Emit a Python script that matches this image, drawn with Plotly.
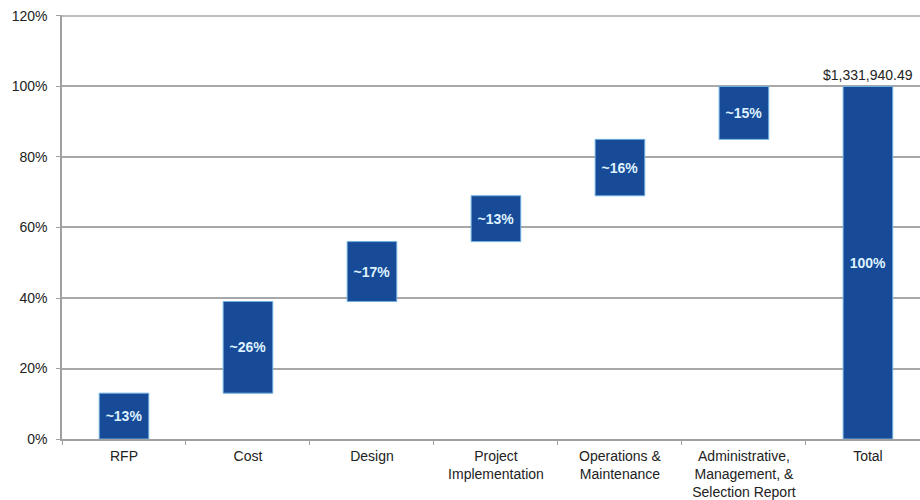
import plotly.graph_objects as go

categories = ["RFP", "Cost", "Design", "Project<br>Implementation", "Operations &<br>Maintenance",
              "Administrative,<br>Management, &<br>Selection Report", "Total"]
increments = [13, 26, 17, 13, 16, 15]
bar_labels = ["~13%", "~26%", "~17%", "~13%", "~16%", "~15%", "100%"]
total_value_label = "$1,331,940.49"
y_tick_vals = [0, 20, 40, 60, 80, 100, 120]
y_tick_text = ["0%", "20%", "40%", "60%", "80%", "100%", "120%"]

bases = []
acc = 0
for v in increments:
    bases.append(acc)
    acc += v
total = acc
heights = increments + [total]
bases = bases + [0]

FONT = "Liberation Sans, Arial, sans-serif"
GRID = "#a8a8a8"

fig = go.Figure()
fig.add_trace(go.Bar(
    x=categories, y=heights, base=bases,
    width=0.4,
    marker=dict(color="#174a97", line=dict(color="#6fb0e0", width=1)),
    text=bar_labels, textposition="inside", insidetextanchor="middle",
    textangle=0,
    textfont=dict(family=FONT, size=14, color="#dff2ff", weight="bold"),
    hoverinfo="skip",
))

fig.add_annotation(x=categories[-1], y=total, text=total_value_label,
                   showarrow=False, yanchor="bottom", yshift=1,
                   font=dict(family=FONT, size=14, color="#222222"))

# top gridline (plotly drops the one at the plot edge)
fig.add_shape(type="line", xref="paper", x0=0, x1=1, yref="y",
              y0=y_tick_vals[-1], y1=y_tick_vals[-1],
              line=dict(color=GRID, width=1.5), layer="below")

fig.update_layout(
    width=920, height=500,
    margin=dict(l=62, r=0, t=15, b=61, autoexpand=False),
    plot_bgcolor="white", paper_bgcolor="white",
    showlegend=False,
    font=dict(family=FONT, size=14, color="#222222"),
    xaxis=dict(
        range=[-0.5, 6.42],
        showgrid=False,
        showline=True, linecolor="#a0a0a0", linewidth=1.5,
        ticks="outside", ticklen=4, tickcolor="#a0a0a0", tickson="boundaries",
        tickfont=dict(size=14, color="#222222"),
        ticklabelstandoff=3,
        automargin=False,
        fixedrange=True,
    ),
    yaxis=dict(
        range=[0, 120.28],
        tickvals=y_tick_vals, ticktext=y_tick_text,
        showgrid=True, gridcolor=GRID, gridwidth=1.5,
        showline=True, linecolor="#a0a0a0", linewidth=1.5,
        ticks="outside", ticklen=4, tickcolor="#a0a0a0",
        tickfont=dict(size=14, color="#222222"),
        ticklabelstandoff=6,
        automargin=False,
        zeroline=False,
        fixedrange=True,
    ),
)

fig.write_html("out.html",
               config={"displayModeBar": False},
               post_script="document.body.style.margin='0';document.body.style.overflow='hidden';")
